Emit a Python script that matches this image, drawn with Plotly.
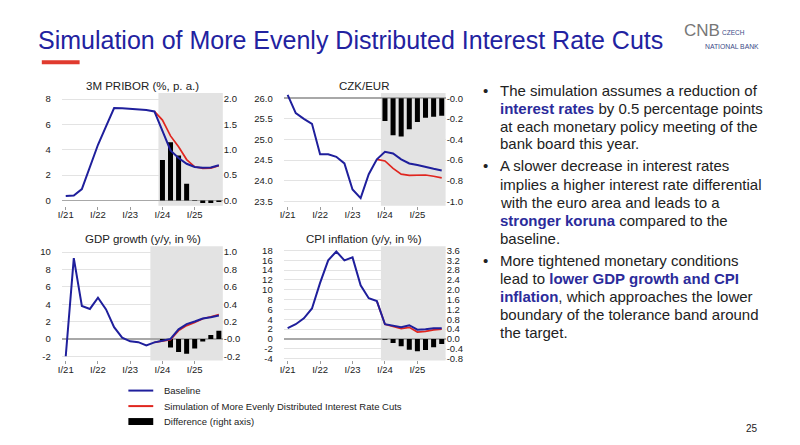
import plotly.graph_objects as go

W, H = 800, 445
FONT = "Liberation Sans, Arial, sans-serif"

# ---------------- data ----------------
quarters = ["I/21", "II/21", "III/21", "IV/21", "I/22", "II/22", "III/22", "IV/22",
            "I/23", "II/23", "III/23", "IV/23", "I/24", "II/24", "III/24", "IV/24",
            "I/25", "II/25", "III/25", "IV/25"]
sim_quarters = quarters[11:]     # IV/23 .. IV/25
diff_quarters = quarters[12:]    # I/24 .. IV/25
year_ticks = ["I/21", "I/22", "I/23", "I/24", "I/25"]

pribor_base = [0.36, 0.40, 0.90, 2.60, 4.40, 5.85, 7.30, 7.28, 7.25, 7.20, 7.15, 7.03,
               5.55, 3.95, 3.35, 2.90, 2.65, 2.58, 2.60, 2.78]
pribor_sim = [7.03, 6.35, 5.10, 4.24, 3.23, 2.66, 2.53, 2.55, 2.75]
pribor_diff = [0.80, 1.15, 0.89, 0.33, 0.01, -0.05, -0.05, -0.03]

czk_base = [26.08, 25.64, 25.50, 25.38, 24.64, 24.64, 24.58, 24.42, 23.79, 23.58,
            24.16, 24.52, 24.70, 24.66, 24.52, 24.42, 24.38, 24.33, 24.29, 24.25]
czk_sim = [24.52, 24.48, 24.30, 24.16, 24.13, 24.14, 24.14, 24.11, 24.07]
czk_diff = [-0.22, -0.36, -0.37, -0.30, -0.23, -0.19, -0.18, -0.17]

gdp_base = [-2.0, 9.3, 3.8, 3.45, 4.75, 3.4, 1.35, 0.15, -0.28, -0.38, -0.76, -0.40,
            -0.22, 0.0, 1.10, 1.70, 2.00, 2.35, 2.50, 2.70]
gdp_sim = [-0.40, -0.24, -0.10, 0.95, 1.53, 1.89, 2.32, 2.55, 2.80]
gdp_diff = [-0.02, -0.10, -0.15, -0.17, -0.11, -0.03, 0.045, 0.095]

cpi_base = [2.2, 3.0, 4.2, 6.2, 11.4, 16.0, 17.8, 16.0, 16.6, 10.9, 8.3, 7.7,
            3.0, 2.7, 2.4, 2.8, 1.9, 2.0, 2.2, 2.2]
cpi_sim = [7.7, 2.97, 2.54, 2.10, 2.36, 1.40, 1.55, 1.86, 2.00]
cpi_diff = [-0.03, -0.16, -0.30, -0.44, -0.50, -0.45, -0.34, -0.20]

panel_titles = ["3M PRIBOR (%, p. a.)", "CZK/EUR", "GDP growth (y/y, in %)", "CPI inflation (y/y, in %)"]

pribor_left_ticks = [0, 2, 4, 6, 8]
pribor_left_text = ["0", "2", "4", "6", "8"]
pribor_right_ticks = [0, 0.5, 1.0, 1.5, 2.0]
pribor_right_text = ["0.0", "0.5", "1.0", "1.5", "2.0"]

czk_left_ticks = [23.5, 24.0, 24.5, 25.0, 25.5, 26.0]
czk_left_text = ["23.5", "24.0", "24.5", "25.0", "25.5", "26.0"]
czk_right_ticks = [-1.0, -0.8, -0.6, -0.4, -0.2, 0.0]
czk_right_text = ["-1.0", "-0.8", "-0.6", "-0.4", "-0.2", "-0.0"]

gdp_left_ticks = [-2, 0, 2, 4, 6, 8, 10]
gdp_left_text = ["-2", "0", "2", "4", "6", "8", "10"]
gdp_right_ticks = [-0.2, 0.0, 0.2, 0.4, 0.6, 0.8, 1.0]
gdp_right_text = ["-0.2", "-0.0", "0.2", "0.4", "0.6", "0.8", "1.0"]

cpi_left_ticks = [-4, -2, 0, 2, 4, 6, 8, 10, 12, 14, 16, 18]
cpi_left_text = ["-4", "-2", "0", "2", "4", "6", "8", "10", "12", "14", "16", "18"]
cpi_right_ticks = [-0.8, -0.4, 0.0, 0.4, 0.8, 1.2, 1.6, 2.0, 2.4, 2.8, 3.2, 3.6]
cpi_right_text = ["-0.8", "-0.4", "0.0", "0.4", "0.8", "1.2", "1.6", "2.0", "2.4", "2.8", "3.2", "3.6"]

legend_labels = ["Baseline", "Simulation of More Evenly Distributed Interest Rate Cuts",
                 "Difference (right axis)"]

# ---------------- style ----------------
BLUE = "#1f1f9c"
RED = "#e0261f"
SHADE = "#e3e3e3"
GRID = "#e3e3e3"
ZERO = "#a8a8a8"
TXT = "#222222"
TITLE_BLUE = "#2222a0"
HL = "#2b2b9b"


def px(x):
    return x / W


def py(y):
    return 1 - y / H


panels = [
    dict(base=pribor_base, sim=pribor_sim, diff=pribor_diff,
         box=(58, 93, 220, 207), left=[-0.41, 8.49], right=[-0.1025, 2.1225],
         lt=(pribor_left_ticks, pribor_left_text), rt=(pribor_right_ticks, pribor_right_text),
         shade=11.5, title_xy=(139, 86)),
    dict(base=czk_base, sim=czk_sim, diff=czk_diff,
         box=(281, 93, 444, 207), left=[23.397, 26.127], right=[-1.0412, 0.0508],
         lt=(czk_left_ticks, czk_left_text), rt=(czk_right_ticks, czk_right_text),
         shade=11.5, title_xy=(362, 86)),
    dict(base=gdp_base, sim=gdp_sim, diff=gdp_diff,
         box=(58, 248, 220, 363.5), left=[-2.48, 10.68], right=[-0.248, 1.068],
         lt=(gdp_left_ticks, gdp_left_text), rt=(gdp_right_ticks, gdp_right_text),
         shade=10.5, title_xy=(140, 241)),
    dict(base=cpi_base, sim=cpi_sim, diff=cpi_diff,
         box=(281, 248, 444, 363.5), left=[-4.36, 18.87], right=[-0.872, 3.774],
         lt=(cpi_left_ticks, cpi_left_text), rt=(cpi_right_ticks, cpi_right_text),
         shade=11.5, title_xy=(362, 241)),
]

fig = go.Figure()
layout = dict(
    width=W, height=H, margin=dict(l=0, r=0, t=0, b=0),
    paper_bgcolor="white", plot_bgcolor="rgba(0,0,0,0)",
    showlegend=False, font=dict(family=FONT, color=TXT),
)
shapes = []
annotations = []

for i, p in enumerate(panels, start=1):
    xs = "" if i == 1 else str(i)
    yr = 2 * i - 1
    yl = 2 * i
    yr_s = "" if yr == 1 else str(yr)
    x0, y0, x1, y1 = p["box"]

    fig.add_trace(go.Bar(x=diff_quarters, y=p["diff"], xaxis="x" + xs, yaxis="y" + yr_s,
                         marker=dict(color="black", line=dict(width=0)), width=0.62))
    fig.add_trace(go.Scatter(x=sim_quarters, y=p["sim"], xaxis="x" + xs, yaxis="y" + str(yl),
                             mode="lines", line=dict(color=RED, width=1.7)))
    fig.add_trace(go.Scatter(x=quarters, y=p["base"], xaxis="x" + xs, yaxis="y" + str(yl),
                             mode="lines", line=dict(color=BLUE, width=2)))

    layout["xaxis" + xs] = dict(
        domain=[px(x0), px(x1)], anchor="y" + yr_s, type="category",
        categoryorder="array", categoryarray=quarters, range=[-0.5, 19.5],
        tickmode="array", tickvals=year_ticks, ticktext=year_ticks,
        ticks="outside", ticklen=3, tickcolor="#9a9a9a", tickwidth=1,
        ticklabelstandoff=-3,
        tickfont=dict(size=9.5, color=TXT), showgrid=False, zeroline=False, showline=False,
        fixedrange=True,
    )
    layout["yaxis" + yr_s] = dict(
        domain=[py(y1), py(y0)], anchor="x" + xs, side="right", range=p["right"],
        tickmode="array", tickvals=p["rt"][0], ticktext=p["rt"][1],
        ticks="outside", ticklen=1, tickcolor="rgba(0,0,0,0)", ticklabelstandoff=-3,
        tickfont=dict(size=9.5, color=TXT), showgrid=False,
        zeroline=True, zerolinecolor=ZERO, zerolinewidth=1.6, showline=False,
    )
    layout["yaxis" + str(yl)] = dict(
        overlaying="y" + yr_s, anchor="x" + xs, side="left", range=p["left"],
        tickmode="array", tickvals=p["lt"][0], ticktext=p["lt"][1],
        ticks="outside", ticklen=8, tickcolor="rgba(0,0,0,0)",
        tickfont=dict(size=9.5, color=TXT), showgrid=True, gridcolor=GRID, gridwidth=1,
        zeroline=False, showline=False,
    )
    shapes.append(dict(type="rect", xref="x" + xs, yref="y" + yr_s + " domain",
                       x0=p["shade"], x1=19.5, y0=0, y1=1, layer="below",
                       fillcolor=SHADE, line=dict(width=0)))
    tx, ty = p["title_xy"]
    annotations.append(dict(text=panel_titles[i - 1], xref="paper", yref="paper",
                            x=px(tx), y=py(ty), xanchor="center", yanchor="middle",
                            showarrow=False, font=dict(size=11.5, color=TXT)))

# ---------- slide title, underline, logo, page number ----------
annotations.append(dict(text="Simulation of More Evenly Distributed Interest Rate Cuts",
                        xref="paper", yref="paper", x=px(32), y=py(39),
                        xanchor="left", yanchor="middle", showarrow=False,
                        font=dict(size=25, color=TITLE_BLUE)))
shapes.append(dict(type="rect", xref="paper", yref="paper", x0=px(38), x1=px(76),
                   y0=py(64), y1=py(60), fillcolor="#e03a2e", line=dict(width=0)))
annotations.append(dict(text="CNB", xref="paper", yref="paper", x=px(702), y=py(30),
                        xanchor="center", yanchor="middle", showarrow=False,
                        font=dict(size=17, color="#777777")))
annotations.append(dict(text="CZECH", xref="paper", yref="paper", x=px(720), y=py(32),
                        xanchor="left", yanchor="middle", showarrow=False,
                        font=dict(size=6.5, color="#3b4a86")))
annotations.append(dict(text="NATIONAL BANK", xref="paper", yref="paper", x=px(703), y=py(46.5),
                        xanchor="left", yanchor="middle", showarrow=False,
                        font=dict(size=6.8, color="#3b4a86")))
annotations.append(dict(text="25", xref="paper", yref="paper", x=px(752), y=py(432),
                        xanchor="center", yanchor="middle", showarrow=False,
                        font=dict(size=10, color=TXT)))

# ---------- legend (drawn manually) ----------
leg_y = [394, 409.7, 425.3]
shapes.append(dict(type="line", xref="paper", yref="paper", x0=px(125), x1=px(150),
                   y0=py(leg_y[0]), y1=py(leg_y[0]), line=dict(color=BLUE, width=2)))
shapes.append(dict(type="line", xref="paper", yref="paper", x0=px(125), x1=px(150),
                   y0=py(leg_y[1]), y1=py(leg_y[1]), line=dict(color=RED, width=2)))
shapes.append(dict(type="rect", xref="paper", yref="paper", x0=px(125), x1=px(150),
                   y0=py(leg_y[2] + 3.5), y1=py(leg_y[2] - 3.5), fillcolor="black",
                   line=dict(width=0)))
for lab, yy in zip(legend_labels, leg_y):
    annotations.append(dict(text=lab, xref="paper", yref="paper", x=px(159), y=py(yy),
                            xanchor="left", yanchor="middle", showarrow=False,
                            font=dict(size=9.5, color=TXT)))

# ---------- bullet text ----------
bullet_lines = [
    "The simulation assumes a reduction of",
    "<b><span style='color:%s'>interest rates</span></b> by 0.5 percentage points" % HL,
    "at each monetary policy meeting of the",
    "bank board this year.",
    "A slower decrease in interest rates",
    "implies a higher interest rate differential",
    "with the euro area and leads to a",
    "<b><span style='color:%s'>stronger koruna</span></b> compared to the" % HL,
    "baseline.",
    "More tightened monetary conditions",
    "lead to <b><span style='color:%s'>lower GDP growth and CPI</span></b>" % HL,
    "<b><span style='color:%s'>inflation</span></b>, which approaches the lower" % HL,
    "boundary of the tolerance band around",
    "the target.",
]
bullet_y = [90.5, 108.5, 126.5, 144.3, 166.7, 185.2, 203.4, 221.7, 240, 262.7, 280.8, 299.2, 317, 335.5]
bullet_starts = [0, 4, 9]
for k, (line, yy) in enumerate(zip(bullet_lines, bullet_y)):
    annotations.append(dict(text=line, xref="paper", yref="paper", x=px(496), y=py(yy),
                            xanchor="left", yanchor="middle", showarrow=False,
                            font=dict(size=15, color=TXT)))
    if k in bullet_starts:
        annotations.append(dict(text="•", xref="paper", yref="paper", x=px(484), y=py(yy),
                                xanchor="center", yanchor="middle", showarrow=False,
                                font=dict(size=15, color=TXT)))

layout["shapes"] = shapes
layout["annotations"] = annotations
fig.update_layout(**layout)
fig.write_html(
    "out.html",
    config={"displayModeBar": False, "staticPlot": True},
    post_script="document.body.style.margin='0';document.body.style.padding='0';"
                "document.body.style.overflow='hidden';",
)
